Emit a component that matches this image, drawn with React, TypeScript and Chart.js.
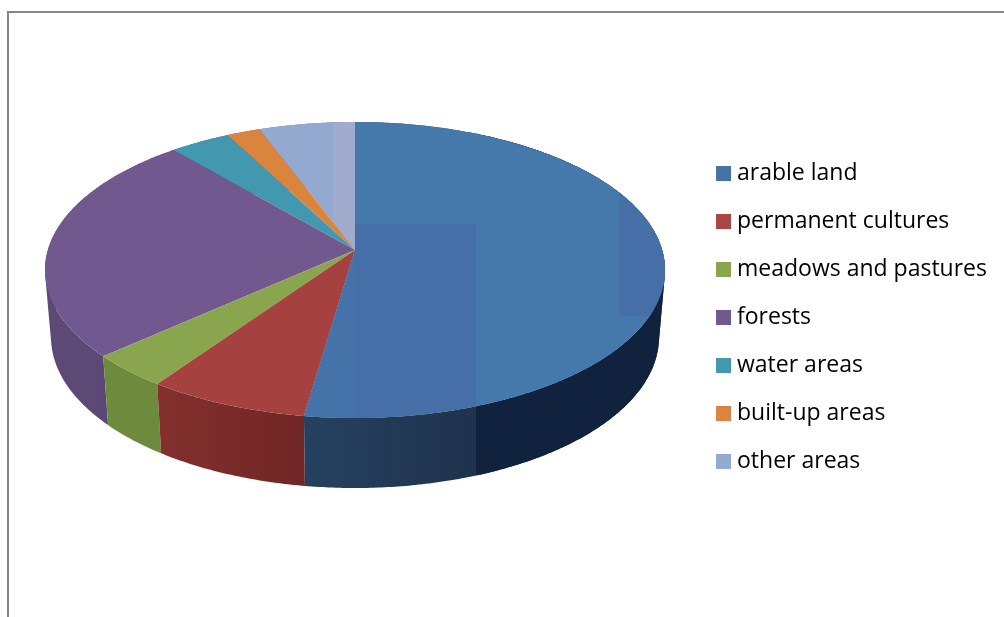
import React, { useEffect, useRef } from "react";
import { Chart, registerables } from "chart.js";

Chart.register(...registerables);

const categories = ["arable land", "permanent cultures", "meadows and pastures", "forests", "water areas", "built-up areas", "other areas"];
const shares = [52.3, 7.4, 3.7, 25.3, 3.6, 2.0, 5.7];
const topColors = ["#4579ab", "#a5423f", "#89a54e", "#71588f", "#4198af", "#db843d", "#93a9cf"];
const legendColors = ["#4572a7", "#aa4643", "#89a54e", "#71588f", "#4198af", "#db843d", "#93a9cf"];
const sideLeft = ["#25415f", "#83302d", "#6e8a3d", "#5d4976", "#2d7183", "#a8642c", "#6f81a0"];
const sideRight = ["#20324d", "#702625", "#6e8a3d", "#5a4774", "#2d7183", "#a8642c", "#6f81a0"];

// Drawing geometry of the tilted pie
const CX = 355;
const TOP = { cy: 270, rx: 310, ry: 148 };
const BOTTOM = { cy: 337, rx: 304, ry: 151 };
const K = 0.135;

function project(theta: number, e: { cy: number; rx: number; ry: number }) {
  const x = Math.sin(theta);
  const y = Math.cos(theta);
  const d = 1 + K * y;
  return { x: CX + (e.rx * x * Math.sqrt(1 - K * K)) / d, y: e.cy - (e.ry * (y + K)) / d };
}

function arcPoints(a: number, b: number, e: { cy: number; rx: number; ry: number }) {
  const n = Math.max(2, Math.ceil((b - a) / 0.01));
  const pts = [];
  for (let i = 0; i <= n; i++) pts.push(project(a + ((b - a) * i) / n, e));
  return pts;
}

const pie3d = {
  id: "pie3d",
  beforeDatasetsDraw(chart: any) {
    const ctx: CanvasRenderingContext2D = chart.ctx;
    const arcs = chart.getDatasetMeta(0).data;
    const order = arcs.map((_: any, i: number) => i).reverse();
    ctx.save();
    // Side wall: one path of same-wound quads, so that the fold at the silhouette stays filled
    for (const i of order) {
      const a = arcs[i].startAngle + Math.PI / 2;
      const b = arcs[i].endAngle + Math.PI / 2;
      const tp = arcPoints(a, b, TOP);
      const bt = arcPoints(a, b, BOTTOM);
      const trace = () => {
        ctx.beginPath();
        for (let j = 0; j < tp.length - 1; j++) {
          const q = [tp[j], tp[j + 1], bt[j + 1], bt[j]];
          let area = 0;
          q.forEach((p, n) => {
            const r = q[(n + 1) % 4];
            area += p.x * r.y - r.x * p.y;
          });
          if (area < 0) q.reverse();
          ctx.moveTo(q[0].x, q[0].y);
          ctx.lineTo(q[1].x, q[1].y);
          ctx.lineTo(q[2].x, q[2].y);
          ctx.lineTo(q[3].x, q[3].y);
          ctx.closePath();
        }
      };
      const xs = bt.map((p) => p.x);
      const g = ctx.createLinearGradient(Math.min(...xs), 0, i === 0 ? 476 : Math.max(...xs), 0);
      g.addColorStop(0, sideLeft[i]);
      g.addColorStop(1, sideRight[i]);
      trace();
      ctx.fillStyle = g;
      ctx.fill();
      if (i === 0) {
        ctx.save();
        trace();
        ctx.clip();
        ctx.fillStyle = "#11223f";
        ctx.fillRect(476, 0, 300, 617);
        ctx.restore();
      }
    }
    // Top face
    const apex = { x: CX, y: TOP.cy - TOP.ry * K };
    for (const i of order) {
      const a = arcs[i].startAngle + Math.PI / 2;
      const b = arcs[i].endAngle + Math.PI / 2;
      const tp = arcPoints(a, b, TOP);
      const trace = () => {
        ctx.beginPath();
        ctx.moveTo(apex.x, apex.y);
        tp.forEach((p) => ctx.lineTo(p.x, p.y));
        ctx.closePath();
      };
      trace();
      ctx.fillStyle = arcs[i].options.backgroundColor;
      ctx.fill();
      if (i === 0) {
        ctx.save();
        trace();
        ctx.clip();
        ctx.fillStyle = "#4573a9";
        ctx.fillRect(250, 224, 105, 300);
        ctx.fillStyle = "#456fa6";
        ctx.fillRect(355, 224, 121, 300);
        ctx.fillRect(619, 190, 60, 126);
        ctx.restore();
      }
      if (i === 6) {
        ctx.save();
        trace();
        ctx.clip();
        ctx.fillStyle = "#a0abce";
        ctx.fillRect(333, 0, 22, 617);
        ctx.restore();
      }
    }
    // Chart frame
    ctx.strokeStyle = "#868686";
    ctx.lineWidth = 2;
    ctx.beginPath();
    ctx.moveTo(8, 617);
    ctx.lineTo(8, 12);
    ctx.lineTo(1004, 12);
    ctx.stroke();
    ctx.restore();
    return false;
  },
};

export default function App() {
  const ref = useRef<HTMLCanvasElement>(null);
  useEffect(() => {
    const chart = new Chart(ref.current as HTMLCanvasElement, {
      type: "pie",
      plugins: [pie3d],
      data: {
        labels: categories,
        datasets: [{ data: shares, backgroundColor: topColors, borderWidth: 0 }],
      },
      options: {
        responsive: false,
        animation: false,
        layout: { padding: { top: 18, right: 7 } },
        plugins: {
          tooltip: { enabled: false },
          legend: {
            position: "right",
            labels: {
              usePointStyle: true,
              pointStyle: "rect",
              boxWidth: 4,
              boxHeight: 15,
              padding: 25,
              color: "#000000",
              font: { family: "'Open Sans'", size: 23 },
              generateLabels: () =>
                categories.map((text, i) => ({
                  text,
                  fillStyle: legendColors[i],
                  strokeStyle: legendColors[i],
                  lineWidth: 0,
                  pointStyle: "rect",
                  index: i,
                })),
            },
          },
        },
      },
    } as any);
    return () => chart.destroy();
  }, []);
  return (
    <div style={{ position: "fixed", left: 0, top: 0, width: 1004, height: 617, background: "#fff" }}>
      <canvas ref={ref} width={1004} height={617} style={{ display: "block" }} />
    </div>
  );
}
